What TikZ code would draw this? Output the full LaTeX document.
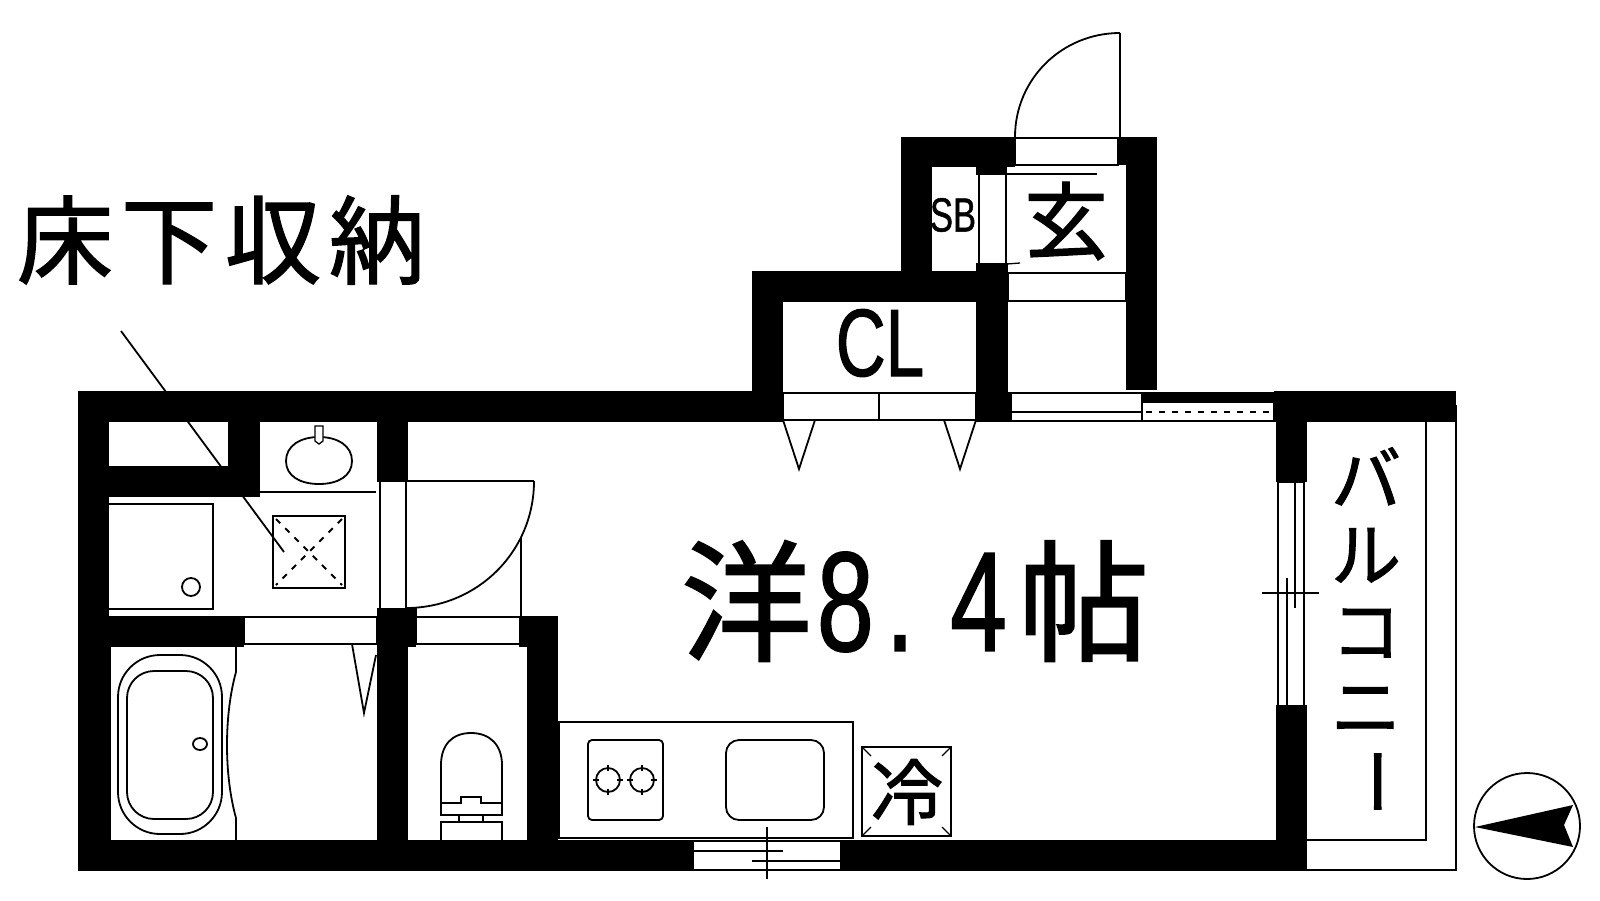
\documentclass[tikz,border=0pt]{standalone}
\usepackage{fontspec}
\newfontfamily\jp[FakeBold=1.5]{Noto Sans CJK JP}
\newfontfamily\narrow[FakeStretch=0.72, FakeBold=1]{Liberation Sans}
\tikzset{
    wall/.style={fill=black},
    thinline/.style={draw=black, line width=1.3pt},
    fixture/.style={draw=black, line width=1.8pt},
    label/.style={inner sep=0pt, text=black}
}
\begin{document}
\begin{tikzpicture}[x=1pt, y=-1pt]
    \useasboundingbox (0,0) rectangle (1600,900);
    \fill[white] (0,0) rectangle (1600,900);

    % Outer walls
    \fill[wall] (78,391) rectangle (783,422);
    \fill[wall] (78,391) rectangle (109,871);
    \fill[wall] (109,616) rectangle (111,840);
    \fill[wall] (78,840) rectangle (693,871);
    \fill[wall] (841,840) rectangle (1307,871);
    \fill[wall] (1274,391) rectangle (1456,422);
    \fill[wall] (1276,391) rectangle (1307,482);
    \fill[wall] (1276,705) rectangle (1307,871);
    \fill[wall] (1142,392) rectangle (1275,402);
    \fill[wall] (1273,392) rectangle (1276,422);

    % Closet and entrance walls
    \fill[wall] (752,271) rectangle (783,422);
    \fill[wall] (752,271) rectangle (1008,302);
    \fill[wall] (976,263) rectangle (1008,422);
    \fill[wall] (976,392) rectangle (1011,422);
    \fill[wall] (901,137) rectangle (932,271);
    \fill[wall] (901,137) rectangle (1015,167);
    \fill[wall] (976,167) rectangle (1007,175);
    \fill[wall] (1118,137) rectangle (1157,165);
    \fill[wall] (1126,137) rectangle (1157,390);

    % Inner walls
    \fill[wall] (109,466) rectangle (259,497);
    \fill[wall] (228,422) rectangle (260,497);
    \fill[wall] (377,422) rectangle (408,482);
    \fill[wall] (377,608) rectangle (408,840);
    \fill[wall] (377,608) rectangle (416,647);
    \fill[wall] (109,616) rectangle (244,647);
    \fill[wall] (519,616) rectangle (558,647);
    \fill[wall] (527,616) rectangle (558,840);

    % Entrance door
    \draw[thinline] (1015,138) rectangle (1118,165);
    \draw[fixture] (1015,137) .. controls (1015,79) and (1062,33) .. (1120,33);
    \draw[thinline] (1120,33) -- (1120,138);
    \draw[thinline] (979,175) -- (979,263);
    \draw[thinline] (1006,175) -- (1006,263);
    \draw[thinline] (1007,174) -- (1097,174);
    \draw[thinline] (1007,264) -- (1020,263);
    \draw[thinline] (1008,273) rectangle (1126,301);

    % Closet doors
    \draw[thinline] (783,393) rectangle (976,420);
    \draw[thinline] (879,393) -- (879,420);
    \draw[fixture] (783,420) -- (799,469) -- (815,420);
    \draw[fixture] (944,420) -- (960,469) -- (976,420);

    % North window
    \draw[thinline] (1011,393) rectangle (1142,421);
    \draw[fixture] (1011,412) -- (1142,412);
    \draw[thinline] (1142,402) rectangle (1275,421);
    \draw[fixture, dashed, dash pattern=on 6pt off 7pt] (1146,412) -- (1272,412);

    % Balcony door
    \draw[thinline] (1278,482) -- (1278,705);
    \draw[thinline] (1304,482) -- (1304,705);
    \draw[thinline] (1278,482) -- (1304,482);
    \draw[thinline] (1295,482) -- (1295,608);
    \draw[thinline] (1287,578) -- (1287,705);
    \draw[thinline] (1262,593) -- (1319,593);

    % Balcony
    \draw[thinline] (1426,422) -- (1426,840) -- (1307,840);
    \draw[thinline] (1456,405) -- (1456,870) -- (1295,870);

    % Compass
    \draw[fixture] (1527,826) circle (53pt);
    \fill (1475,827) -- (1573,805) -- (1564,825) -- (1573,847) -- cycle;

    % Washroom
    \draw[fixture] (286,461) .. controls (286,446) and (300,437) .. (319,437) .. controls (338,437) and (352,446) .. (352,461) .. controls (352,476) and (338,484) .. (319,484) .. controls (300,484) and (286,476) .. (286,461) -- cycle;
    \draw[thinline, fill=white] (315,426) -- (323,426) -- (323,441) -- (319,444) -- (315,441) -- cycle;
    \draw[thinline] (259,492) -- (376,492);
    \draw[thinline] (109,504) -- (213,504) -- (213,609) -- (109,609);
    \draw[fixture] (191,587) circle (9pt);
    \draw[fixture] (273,516) rectangle (345,588);
    \draw[fixture, dashed, dash pattern=on 6pt off 7pt] (276,519) -- (342,585);
    \draw[fixture, dashed, dash pattern=on 6pt off 7pt] (342,519) -- (276,585);

    % Washroom door
    \draw[thinline] (380,482) -- (380,608);
    \draw[thinline] (244,617) rectangle (377,644);
    \draw[fixture] (352,644) -- (364,713) -- (376,655);

    % Room door
    \draw[thinline] (406,482) -- (406,608);
    \draw[fixture] (406,481) -- (534,481);
    \draw[fixture] (534,481) .. controls (534,552) and (477,608) .. (406,608);
    \draw[thinline] (521,538) -- (521,617);
    \draw[thinline] (416,608) -- (416,644);
    \draw[thinline] (416,617) -- (519,617);
    \draw[thinline] (416,644) -- (519,644);

    % Bath
    \draw[fixture, rounded corners=42pt] (118,655) rectangle (222,834);
    \draw[fixture, rounded corners=27pt] (127,671) rectangle (213,819);
    \draw[fixture] (200,744) ellipse (7pt and 6pt);
    \draw[fixture] (236,644) -- (236,672) .. controls (224,715) and (224,775) .. (236,818) -- (236,840);

    % Toilet
    \draw[fixture] (441,803) -- (441,765) .. controls (441,745) and (452,733) .. (471,733) .. controls (490,733) and (502,745) .. (502,765) -- (502,803);
    \draw[fixture] (441,803) -- (461,803) -- (461,797) -- (481,797) -- (481,803) -- (502,803) -- (502,815) -- (441,815) -- cycle;
    \draw[thinline] (459,815) rectangle (483,822);
    \draw[fixture] (441,840) -- (441,822) -- (502,822) -- (502,840);

    % Kitchen
    \draw[fixture] (559,722) rectangle (853,838);
    \draw[fixture, rounded corners=4pt] (588,740) rectangle (663,820);
    \draw[fixture, rounded corners=13pt] (726,740) rectangle (824,820);
    \foreach \bx in {608,642} {
        \draw[fixture] (\bx,780) circle (12pt);
        \draw[fixture] (\bx,765) -- (\bx,771);
        \draw[fixture] (\bx,789) -- (\bx,795);
        \draw[fixture] (\bx-15,780) -- (\bx-9,780);
        \draw[fixture] (\bx+9,780) -- (\bx+15,780);
    }

    % Fridge
    \draw[fixture] (862,747) rectangle (951,836);
    \draw[thinline] (862,747) -- (871,756);
    \draw[thinline] (951,747) -- (942,756);
    \draw[thinline] (862,836) -- (871,827);
    \draw[thinline] (951,836) -- (942,827);

    % South window
    \draw[thinline] (693,841) rectangle (841,870);
    \draw[thinline] (693,851) -- (783,851);
    \draw[thinline] (752,861) -- (841,861);
    \draw[thinline] (767,827) -- (767,879);

    % Leader line
    \draw[fixture] (121,331) -- (284,552);

    % Labels
    \node[label, font=\jp\fontsize{96}{96}\selectfont] (storage) at (221,240) {床\hspace{8pt}下\hspace{8pt}収\hspace{8pt}納};
    \node[label, font=\jp\fontsize{131}{131}\selectfont] (room) at (915,601) {洋{\narrow\fontsize{142}{142}\selectfont \hspace{5pt}8\hspace{12pt}.\hspace{36pt}4\hspace{11pt}}帖};
    \node[label, font=\narrow\fontsize{96}{96}\selectfont] (closet) at (880,343) {CL};
    \node[label, font=\narrow\fontsize{48}{48}\selectfont] (shoebox) at (953,215) {SB};
    \node[label, font=\jp\fontsize{84}{84}\selectfont] (entry) at (1066,221) {玄};
    \node[label, font=\jp\fontsize{72}{72}\selectfont] (fridge) at (907,792) {冷};
    \node[label, align=center, font=\jp\fontsize{70}{76}\selectfont] (balcony) at (1366,632) {バ\\ル\\コ\\ニ\\[-12pt]\rotatebox[origin=c]{-90}{ー}};
\end{tikzpicture}
\end{document}
